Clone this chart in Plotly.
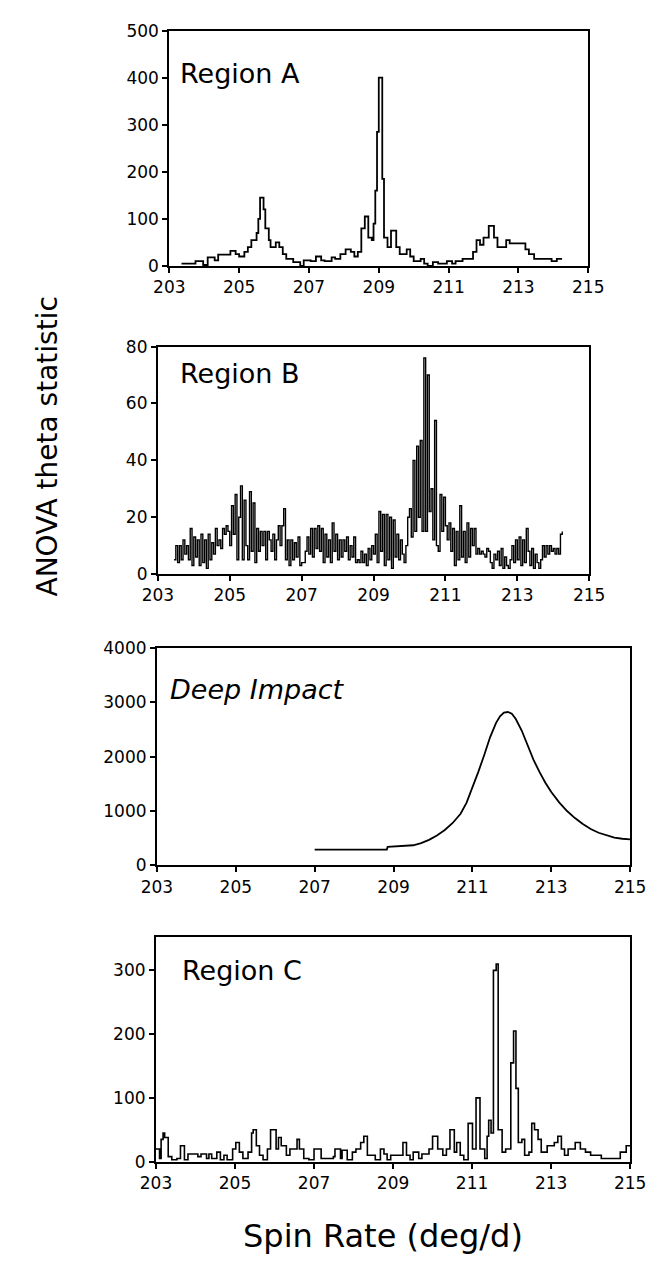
import numpy as np
import plotly.graph_objects as go

# ---------------- data ----------------
# Region A (step curve, change points)
a_x = [203.35, 203.75, 203.97, 204.1, 204.3, 204.4, 204.75, 204.9, 205.0, 205.15, 205.25, 205.35,
       205.5, 205.55, 205.6, 205.7, 205.75, 205.85, 205.9, 206.05, 206.15, 206.25, 206.35, 206.55,
       206.75, 206.85, 207.05, 207.2, 207.35, 207.45, 207.65, 207.75, 207.9, 208.05, 208.2, 208.3,
       208.4, 208.5, 208.6, 208.7, 208.8, 208.85, 208.9, 208.95, 209.0, 209.1, 209.15, 209.25,
       209.35, 209.5, 209.6, 209.8, 209.9, 210.0, 210.2, 210.3, 210.4, 210.55, 210.7, 210.95,
       211.1, 211.2, 211.4, 211.7, 211.8, 211.9, 212.0, 212.15, 212.3, 212.4, 212.65, 212.75,
       213.2, 213.3, 213.45, 213.95, 214.1, 214.25]
a_y = [5, 10, 2, 18, 12, 24, 32, 25, 20, 30, 40, 55,
       70, 100, 145, 120, 80, 55, 40, 50, 40, 25, 15, 8,
       0, 12, 10, 20, 12, 10, 18, 15, 25, 35, 30, 20,
       30, 80, 105, 60, 55, 90, 160, 285, 400, 185, 60, 40,
       75, 40, 25, 35, 20, 10, 15, 5, 0, 8, 5, 10,
       5, 10, 15, 30, 55, 45, 60, 85, 60, 40, 55, 48,
       35, 25, 15, 10, 15, 15]

# Region B (sampled every 0.05 deg/d from 203.45)
b_start, b_step = 203.45, 0.05
b_y = [5, 10, 4, 10, 5, 12, 7, 10, 5, 16, 3, 13, 6, 12, 3, 14, 4, 12, 2, 14,
       5, 11, 7, 16, 10, 12, 9, 16, 14, 17, 15, 10, 24, 14, 28, 5, 20, 31, 5, 26,
       10, 5, 29, 8, 25, 4, 16, 8, 15, 10, 15, 5, 15, 12, 8, 14, 5, 12, 17, 10,
       17, 23, 5, 12, 3, 12, 5, 11, 6, 13, 3, 4, 4, 8, 13, 7, 16, 6, 16, 9,
       17, 8, 16, 4, 14, 6, 12, 4, 18, 8, 14, 5, 12, 6, 12, 8, 13, 5, 10, 6,
       13, 4, 5, 4, 8, 4, 7, 3, 9, 5, 10, 7, 14, 4, 22, 8, 21, 3, 21, 5,
       20, 2, 19, 6, 14, 5, 12, 7, 4, 10, 20, 23, 13, 40, 15, 45, 20, 47, 15, 76,
       15, 70, 22, 30, 12, 54, 10, 8, 28, 15, 27, 17, 12, 18, 8, 16, 3, 15, 5, 24,
       6, 15, 4, 18, 6, 16, 10, 16, 7, 9, 7, 8, 7, 6, 9, 8, 4, 2, 7, 5,
       8, 3, 9, 2, 6, 3, 2, 5, 10, 4, 12, 5, 13, 3, 12, 4, 16, 8, 3, 9,
       2, 7, 4, 2, 5, 10, 6, 10, 7, 10, 8, 9, 7, 9, 7, 14, 15]

# Deep Impact
d_x = [207.0, 208.83, 208.85, 209.5, 209.7, 209.9, 210.1, 210.3, 210.5, 210.7, 210.85, 211.0,
       211.15, 211.3, 211.45, 211.6, 211.7, 211.8, 211.9, 212.0, 212.1, 212.25, 212.4, 212.55,
       212.7, 212.85, 213.0, 213.2, 213.4, 213.6, 213.8, 214.0, 214.2, 214.4, 214.6, 214.8, 215.0]
d_y = [290, 290, 340, 370, 410, 470, 550, 650, 780, 950, 1150, 1420,
       1720, 2030, 2360, 2620, 2740, 2810, 2820, 2790, 2690, 2480, 2200, 1940,
       1720, 1520, 1350, 1160, 1000, 870, 760, 670, 600, 550, 510, 490, 480]

# Region C (step curve, change points)
c_x = [203.0, 203.09, 203.13, 203.18, 203.22, 203.31, 203.4, 203.53, 203.62, 203.72, 203.81,
       204.06, 204.14, 204.28, 204.34, 204.41, 204.54, 204.63, 204.72, 204.8, 204.94, 205.02,
       205.11, 205.2, 205.33, 205.42, 205.46, 205.54, 205.62, 205.71, 205.82, 205.9, 206.04,
       206.1, 206.17, 206.3, 206.39, 206.57, 206.63, 206.74, 206.87, 207.0, 207.18, 207.49,
       207.53, 207.67, 207.71, 207.84, 207.97, 208.06, 208.18, 208.26, 208.35, 208.55, 208.68,
       208.77, 208.85, 208.94, 209.25, 209.34, 209.43, 209.51, 209.65, 209.73, 209.91, 210.0,
       210.13, 210.26, 210.35, 210.44, 210.55, 210.61, 210.7, 210.79, 210.9, 211.01, 211.1,
       211.2, 211.32, 211.38, 211.42, 211.48, 211.54, 211.61, 211.66, 211.76, 211.85, 211.98,
       212.05, 212.11, 212.17, 212.26, 212.33, 212.44, 212.51, 212.58, 212.67, 212.75, 212.9,
       213.08, 213.17, 213.26, 213.34, 213.43, 213.61, 213.74, 213.87, 214.0, 214.27, 214.75,
       214.9, 215.0]
c_y = [20, 5, 35, 45, 38, 8, 3, 5, 25, 3, 12,
       8, 12, 5, 12, 5, 15, 3, 10, 3, 20, 30,
       15, 5, 15, 45, 50, 25, 10, 3, 20, 50, 20,
       38, 25, 10, 20, 35, 20, 5, 3, 20, 5, 8,
       20, 5, 18, 3, 15, 20, 30, 40, 10, 3, 20,
       12, 3, 10, 30, 10, 3, 15, 5, 12, 20, 40,
       20, 10, 20, 50, 15, 30, 10, 3, 60, 20, 100,
       20, 5, 40, 65, 45, 300, 310, 50, 15, 20, 155,
       205, 115, 30, 35, 10, 15, 60, 50, 35, 15, 25,
       30, 40, 20, 10, 20, 30, 20, 15, 10, 5, 15,
       25, 25]

x_ticks = [203, 205, 207, 209, 211, 213, 215]
panel_labels = ["Region A", "Region B", "<i>Deep Impact</i>", "Region C"]
y_ranges = [[0, 500], [0, 80], [0, 4000], [0, 352]]
y_dticks = [100, 20, 1000, 100]

b_x = list(np.round(b_start + b_step * np.arange(len(b_y)), 2))

# ---------------- layout geometry (pixels) ----------------
W, H = 669, 1277
# left, right, top, bottom
boxes = [(161, 601, 21, 260), (149, 602, 342, 573), (148, 645, 648, 869), (147, 645, 942, 1170)]
widths = [1.8, 1.4, 1.8, 1.6]

fig = go.Figure()
series = [(a_x, a_y, "hv"), (b_x, b_y, "hv"), (d_x, d_y, "linear"), (c_x, c_y, "hv")]
FONT = "DejaVu Sans"
for i, ((xs, ys, shape), (l, r, t, b)) in enumerate(zip(series, boxes)):
    n = "" if i == 0 else str(i + 1)
    fig.add_trace(go.Scatter(x=xs, y=ys, mode="lines", line=dict(color="black", width=widths[i], shape=shape),
                             xaxis="x" + n, yaxis="y" + n, showlegend=False))
    common = dict(showline=True, linecolor="black", linewidth=2, mirror=True, showgrid=False,
                  zeroline=False, ticks="outside", ticklen=5, tickwidth=1.5, tickcolor="black",
                  tickfont=dict(family=FONT, size=17, color="black"))
    fig.update_layout(**{
        "xaxis" + n: dict(domain=[l / W, r / W], range=[203, 215], tickvals=x_ticks,
                          anchor="y" + n, **common),
        "yaxis" + n: dict(domain=[1 - b / H, 1 - t / H], range=y_ranges[i], dtick=y_dticks[i],
                          tick0=0, anchor="x" + n, **common),
    })

label_pos = [(170, 65), (170, 369), (160, 690), (172, 976)]
for i, (txt, (px, py)) in enumerate(zip(panel_labels, label_pos)):
    fig.add_annotation(x=px / W, y=1 - py / H, xref="paper", yref="paper", text=txt,
                       showarrow=False, xanchor="left", yanchor="middle",
                       font=dict(family=FONT, size=27, color="black"))

fig.add_annotation(x=33 / W, y=1 - 443 / H, xref="paper", yref="paper", text="ANOVA theta statistic",
                   textangle=-90, showarrow=False, xanchor="center", yanchor="middle",
                   font=dict(family=FONT, size=28, color="black"))
fig.add_annotation(x=385 / W, y=1 - 1246 / H, xref="paper", yref="paper", text="Spin Rate (deg/d)",
                   showarrow=False, xanchor="center", yanchor="middle",
                   font=dict(family=FONT, size=32, color="black"))

fig.update_layout(width=W, height=H, margin=dict(l=0, r=0, t=0, b=0),
                  paper_bgcolor="white", plot_bgcolor="white")
fig.write_html("out.html")
